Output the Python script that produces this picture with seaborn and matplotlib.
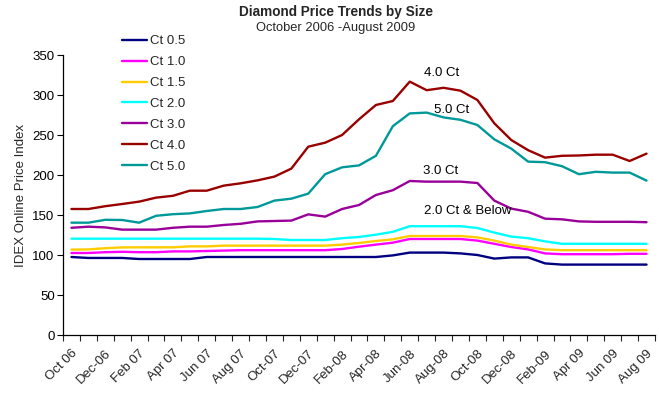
import numpy as np
import pandas as pd
import matplotlib
matplotlib.use("Agg")
import matplotlib.pyplot as plt
import seaborn as sns

months = ["Oct 06", "Nov 06", "Dec-06", "Jan 07", "Feb 07", "Mar 07", "Apr 07", "May 07",
          "Jun 07", "Jul 07", "Aug 07", "Sep 07", "Oct-07", "Nov-07", "Dec-07", "Jan-08",
          "Feb-08", "Mar-08", "Apr-08", "May-08", "Jun-08", "Jul-08", "Aug-08", "Sep-08",
          "Oct-08", "Nov-08", "Dec-08", "Jan-09", "Feb-09", "Mar-09", "Apr 09", "May 09",
          "Jun 09", "Jul 09", "Aug 09"]

ct05 = [97.5, 96.3, 96.3, 96.3, 95, 95, 95, 95, 97.5, 97.5, 97.5, 97.5, 97.5, 97.5, 97.5, 97.5,
        97.5, 97.5, 97.5, 99.5, 103, 103, 103, 102, 100, 95.5, 97, 97, 89.5, 88, 88, 88, 88, 88, 88]
ct10 = [102.5, 102.5, 103.5, 104, 103.5, 103.5, 104.5, 104.5, 105, 105.5, 106, 106, 106, 106, 106, 106,
        107.5, 110.4, 113, 115.4, 120, 120, 120, 120, 118, 114, 110, 107, 102, 101, 101, 101, 101, 101.5, 101.5]
ct15 = [106.7, 107, 108.5, 109.5, 109.6, 109.6, 109.6, 110.8, 110.8, 111.7, 111.7, 111.7, 111.7, 111.7, 111.7, 111.7,
        113, 115, 117.5, 119.6, 123.75, 123.75, 123.75, 123.75, 122, 118, 113, 110, 107, 106, 106, 106, 106, 106, 106]
ct20 = [120.4, 120.4, 120.4, 120.4, 120.4, 120.4, 120.4, 120.4, 120.4, 120.4, 120.4, 120.4, 120, 118.75, 118.75, 118.75,
        121, 122.5, 125.4, 129, 136, 136, 136, 136, 133.75, 128, 123, 121, 117, 114, 114, 114, 114, 114, 114]
ct30 = [134, 135.4, 134.5, 131.7, 131.7, 131.7, 134, 135.4, 135.4, 137.5, 139, 142, 142.5, 143, 150.8, 148,
        157.5, 162.5, 175, 181, 192.5, 191.7, 191.7, 191.7, 190, 168, 158, 154, 145.4, 144.6, 142, 141.5, 141.5, 141.5, 141]
ct40 = [157.5, 157.5, 161, 163.75, 166.7, 171.7, 174, 180.4, 180.4, 186.7, 189.6, 193.3, 198, 208, 235.4, 240.4,
        250, 269.6, 287.5, 292.5, 316.7, 306, 309, 305.4, 293.75, 264.6, 243.75, 231, 221.7, 224, 224.4, 225.4, 225.4, 217.5, 226.7]
ct50 = [140.4, 140.4, 144, 143.75, 140.4, 149, 151, 152, 155, 157.5, 157.5, 160, 168, 170.4, 176.7, 201,
        209.6, 212, 224, 261, 277, 278, 272, 269, 262.5, 244.6, 233, 216.7, 216, 211, 201, 204, 203, 203, 193]

series_names = ["Ct 0.5", "Ct 1.0", "Ct 1.5", "Ct 2.0", "Ct 3.0", "Ct 4.0", "Ct 5.0"]
series_values = [ct05, ct10, ct15, ct20, ct30, ct40, ct50]
colors = ["#000080", "#FF00FF", "#FFCC00", "#00FFFF", "#990099", "#990000", "#009999"]

annotations = [("4.0 Ct", 21.9, 327), ("5.0 Ct", 22.45, 281), ("3.0 Ct", 21.8, 205),
               ("2.0 Ct & Below", 23.4, 155)]

rows = []
for name, vals in zip(series_names, series_values):
    for i, v in enumerate(vals):
        rows.append({"idx": i, "month": months[i], "series": name, "value": v})
df = pd.DataFrame(rows)

sns.set_style("white")
plt.rcParams['font.family'] = ['Liberation Sans', 'DejaVu Sans']

fig = plt.figure(figsize=(6.59, 3.98), dpi=100)
ax = fig.add_axes([63 / 659, 63 / 398, 592 / 659, 280 / 398])

sns.lineplot(data=df, x="idx", y="value", hue="series", palette=colors,
             hue_order=series_names, linewidth=1.7, ax=ax, legend=True)

ax.set_xlim(-0.5, len(months) - 0.5)
ax.set_ylim(0, 350)
ax.set_yticks(np.arange(0, 351, 50))
ax.tick_params(axis="y", which="major", direction="out", length=4, width=0.8,
               left=True, labelsize=9.5, pad=2, colors="black")

label_pos = list(range(0, len(months), 2))
ax.set_xticks(label_pos)
ax.set_xticklabels([months[i] for i in label_pos], rotation=45, ha="right",
                   rotation_mode="anchor", fontsize=9.5)
ax.set_xticks(np.arange(-0.5, len(months), 1.0), minor=True)
ax.tick_params(axis="x", which="major", length=0, pad=9)
ax.tick_params(axis="x", which="minor", direction="out", length=4, width=0.8, bottom=True)

for s in ["top", "right"]:
    ax.spines[s].set_visible(False)
for s in ["left", "bottom"]:
    ax.spines[s].set_color("black")
    ax.spines[s].set_linewidth(0.9)

ax.set_xlabel("")
ax.set_ylabel("IDEX Online Price Index", fontsize=9.5, labelpad=4)

for text, xi, yv in annotations:
    ax.text(xi, yv, text, ha="center", va="center", fontsize=9.5, color="black")

leg = ax.legend(loc="upper left", bbox_to_anchor=(122 / 659, 1 - 35 / 398),
                bbox_transform=fig.transFigure, frameon=False, fontsize=9.5,
                handlelength=1.9, handletextpad=0.25, labelspacing=0.66,
                borderaxespad=0, borderpad=0)

fig.text(336 / 659, 1 - 12 / 398, "Diamond Price Trends by Size", ha="center", va="center",
         fontsize=9.8, fontweight="bold")
fig.text(336 / 659, 1 - 28 / 398, "October 2006 -August 2009", ha="center", va="center",
         fontsize=9.3)

fig.savefig("out.png", dpi=100, facecolor="white")
